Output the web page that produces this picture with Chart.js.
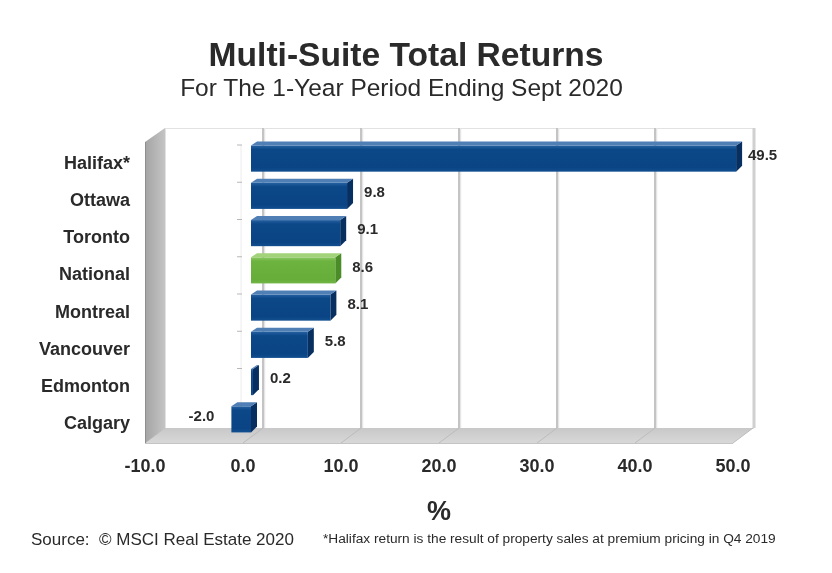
<!DOCTYPE html>
<html lang="en">
<head>
  <meta charset="UTF-8">
  <title>Multi-Suite Total Returns</title>
  <script src="https://cdn.jsdelivr.net/npm/chart.js"></script>
  <style>
    body { margin: 0; background: #fff; }
    #wrap { position: relative; width: 832px; height: 573px; font-family: "Liberation Sans", Arial, sans-serif; color: #2a2a2a; }
    #wrap canvas { position: absolute; left: 0; top: 0; }
    .txt { position: absolute; line-height: 1; white-space: nowrap; }
    #title { left: 0; width: 812px; top: 37.6px; text-align: center; font-size: 33.6px; font-weight: bold; }
    #subtitle { left: 0; width: 803px; top: 76.3px; text-align: center; font-size: 24.5px; }
    #source { left: 31px; top: 530.6px; font-size: 17px; }
    #note { left: 323px; top: 532.4px; font-size: 13.7px; }
  </style>
</head>
<body>
  <div id="wrap">
    <canvas id="returnsChart" width="832" height="573"></canvas>
    <div class="txt" id="title">Multi-Suite Total Returns</div>
    <div class="txt" id="subtitle">For The 1-Year Period Ending Sept 2020</div>
    <div class="txt" id="source">Source:&nbsp; ©&nbsp;MSCI Real Estate 2020</div>
    <div class="txt" id="note">*Halifax return is the result of property sales at premium pricing in Q4 2019</div>
  </div>

  <script>
    const cities = ['Halifax*', 'Ottawa', 'Toronto', 'National', 'Montreal', 'Vancouver', 'Edmonton', 'Calgary'];
    const returns = [49.5, 9.8, 9.1, 8.6, 8.1, 5.8, 0.2, -2.0];
    const xTicks = [-10, 0, 10, 20, 30, 40, 50];
    const highlight = 'National';

    const FONT = '"Liberation Sans", Arial, sans-serif';
    const TEXT = '#2a2a2a';

    // fake 3D: back wall offset and bar offset from the front plane
    const DX = 20, DY = -15;
    const BAR_DX = 8, BAR_DY = -5, SIDE = 6, TOPF = 4;

    const blue = { top: '#4f7fb5', side: '#072f60', stops: ['#2561a2', '#0c4788', '#0a4484', '#124f90'] };
    const green = { top: '#a2d37a', side: '#4b8c28', stops: ['#8cc862', '#6cb33f', '#66ad3a', '#72b646'] };

    function poly(ctx, pts, fill) {
      ctx.beginPath();
      ctx.moveTo(pts[0][0], pts[0][1]);
      for (let i = 1; i < pts.length; i++) ctx.lineTo(pts[i][0], pts[i][1]);
      ctx.closePath();
      ctx.fillStyle = fill;
      ctx.fill();
    }

    function line(ctx, x1, y1, x2, y2, color, w) {
      ctx.beginPath();
      ctx.moveTo(x1, y1);
      ctx.lineTo(x2, y2);
      ctx.strokeStyle = color;
      ctx.lineWidth = w;
      ctx.stroke();
    }

    const box3d = {
      id: 'box3d',
      beforeDatasetsDraw(chart) {
        const { ctx, chartArea: a, scales: { x, y } } = chart;
        const L = a.left, R = a.right, T = a.top, B = a.bottom;
        ctx.save();

        // back wall
        ctx.strokeStyle = '#e2e2e2';
        ctx.lineWidth = 1;
        ctx.strokeRect(L + DX + 0.5, T + DY - 1.5, R - L, B - T + 2);
        line(ctx, R + DX + 1, T + DY - 2, R + DX + 1, B + DY, '#d0d0d0', 3);

        // back grid lines
        xTicks.forEach(v => {
          if (v === xTicks[0] || v === xTicks[xTicks.length - 1]) return;
          const px = x.getPixelForValue(v) + DX;
          line(ctx, px + 1.5, T + DY - 2, px + 1.5, B + DY, '#e6e6e6', 1.5);
          line(ctx, px, T + DY - 2, px, B + DY, '#c4c4c4', 2);
        });

        // floor
        const fg = ctx.createLinearGradient(0, B + DY, 0, B);
        fg.addColorStop(0, '#c8c8c8');
        fg.addColorStop(1, '#d8d8d8');
        poly(ctx, [[L, B], [R, B], [R + DX, B + DY], [L + DX, B + DY]], fg);
        xTicks.forEach(v => {
          const px = x.getPixelForValue(v);
          line(ctx, px, B, px + DX, B + DY, '#bcbcbc', 1);
        });
        line(ctx, L, B + 0.5, R, B + 0.5, '#c4c4c4', 1);

        // left wall
        const lg = ctx.createLinearGradient(L, 0, L + DX, 0);
        lg.addColorStop(0, '#a4a4a4');
        lg.addColorStop(1, '#c4c4c4');
        poly(ctx, [[L, B], [L, T - 3], [L + DX, T + DY - 2], [L + DX, B + DY]], lg);
        line(ctx, L + 0.5, T - 3, L + 0.5, B, '#8e8e8e', 1);

        // zero line with category ticks
        const z = x.getPixelForValue(0);
        line(ctx, z - 2, T, z - 2, B - 30, '#ececec', 1);
        for (let i = 0; i < cities.length; i++) {
          const ty = y.getPixelForValue(i) - (y.getPixelForValue(1) - y.getPixelForValue(0)) / 2;
          line(ctx, z - 6, ty, z - 1, ty, '#b8b8b8', 1);
        }
        ctx.restore();
      },
      afterDatasetsDraw(chart) {
        const { ctx, scales: { x } } = chart;
        const meta = chart.getDatasetMeta(0);
        ctx.save();
        meta.data.forEach((bar, i) => {
          const p = bar.getProps(['x', 'y', 'base', 'height'], true);
          const left = Math.min(p.x, p.base) + BAR_DX;
          const right = Math.max(p.x, p.base) + BAR_DX;
          const top = p.y - p.height / 2 + BAR_DY;
          const bottom = p.y + p.height / 2 + BAR_DY;
          const pal = cities[i] === highlight ? green : blue;

          poly(ctx, [[right, top], [right + SIDE, top - TOPF], [right + SIDE, bottom - TOPF - 2], [right, bottom]], pal.side);
          poly(ctx, [[left, top], [left + SIDE, top - TOPF], [right + SIDE, top - TOPF], [right, top]], pal.top);
          const g = ctx.createLinearGradient(0, top, 0, bottom);
          g.addColorStop(0, pal.stops[0]);
          g.addColorStop(0.15, pal.stops[1]);
          g.addColorStop(0.85, pal.stops[2]);
          g.addColorStop(1, pal.stops[3]);
          ctx.fillStyle = g;
          ctx.fillRect(left, top, right - left, bottom - top);

          // value label
          const v = returns[i];
          ctx.font = 'bold 15px ' + FONT;
          ctx.fillStyle = TEXT;
          ctx.textBaseline = 'middle';
          const ly = (top + bottom) / 2 - 3;
          if (v >= 0) {
            ctx.textAlign = 'left';
            ctx.fillText(v.toFixed(1), Math.min(x.getPixelForValue(v) + 25, 748), ly);
          } else {
            ctx.textAlign = 'right';
            ctx.fillText(v.toFixed(1), left - 17, ly);
          }
        });
        ctx.restore();
      }
    };

    new Chart(document.getElementById('returnsChart'), {
      type: 'bar',
      data: {
        labels: cities,
        datasets: [{
          label: 'Total return (%)',
          data: returns,
          backgroundColor: 'rgba(0,0,0,0)',
          barPercentage: 0.7,
          categoryPercentage: 1
        }]
      },
      options: {
        indexAxis: 'y',
        responsive: false,
        animation: false,
        events: [],
        layout: { padding: { top: 145, right: 99, bottom: 0, left: 0 } },
        plugins: { legend: { display: false }, tooltip: { enabled: false } },
        scales: {
          x: {
            min: -10,
            max: 50,
            ticks: {
              stepSize: 10,
              callback: v => Number(v).toFixed(1),
              font: { family: FONT, size: 18, weight: 'bold' },
              color: TEXT,
              padding: 13
            },
            grid: { display: false, drawTicks: false },
            border: { display: false },
            title: {
              display: true,
              text: '%',
              font: { family: FONT, size: 27, weight: 'bold' },
              color: TEXT,
              padding: { top: 0, bottom: 44 }
            },
            afterFit(s) { s.height = 130; }
          },
          y: {
            ticks: {
              font: { family: FONT, size: 18, weight: 'bold' },
              color: TEXT,
              padding: 15
            },
            grid: { display: false, drawTicks: false },
            border: { display: false },
            afterFit(s) { s.width = 145; }
          }
        }
      },
      plugins: [box3d]
    });
  </script>
</body>
</html>
